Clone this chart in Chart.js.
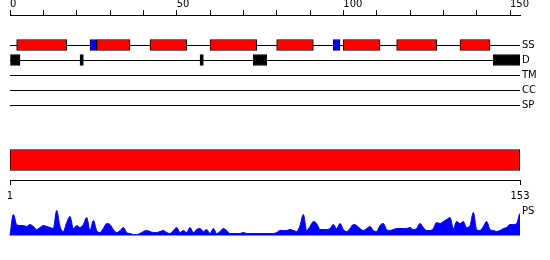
<!DOCTYPE html>
<html>
<head>
<meta charset="utf-8">
<script src="https://cdn.jsdelivr.net/npm/chart.js@4.4.1/dist/chart.umd.min.js"></script>
<style>
body{margin:0;background:#fff;width:550px;height:260px;overflow:hidden;position:relative}
.box{position:absolute;left:0;width:550px}
</style>
</head>
<body>
<div class="box" style="top:0;height:120px"><canvas id="tracks"></canvas></div>
<div class="box" style="top:140px;height:65px"><canvas id="domain"></canvas></div>
<div class="box" style="top:200px;height:36px"><canvas id="ps"></canvas></div>
<script>
// sequence length and track names
const seqLen=153
const trackNames=["SS","D","TM","CC","SP"]

// secondary structure: helices (red) and strands (blue), [start,end]
const helices=[[2,17],[26,36],[42,53],[60,74],[80,91],[100,111],[116,128],[135,144]]
const strands=[[24,26],[97,99]]

// disordered regions
const disorder=[[0,3],[21,22],[57,58],[73,77],[145,153]]

// domain bar
const domains=[[1,153]]

// bottom axis labels
const domainTicks=[1,153]

// PS profile, one value per residue 1..153
const psValues=[
21,11,10,10,9,11,9,6,8,10,
9,8,7,25,9,4,13,19,7,10,
8,11,18,5,15,5,3,7,12,11,
6,3,5,8,3,2,1,1,2,4,
5,4,3,3,4,5,3,2,5,8,
3,5,3,8,3,6,7,4,6,2,
7,2,4,7,5,2,2,2,2,3,
2,2,2,2,2,2,2,2,2,3,
5,5,5,6,5,4,10,21,5,9,
14,12,6,6,6,7,11,7,12,6,
4,7,11,10,7,5,7,9,5,4,
10,12,6,5,6,7,7,7,7,8,
6,7,12,8,5,5,7,13,12,14,
16,18,7,14,12,14,8,10,23,6,
5,9,14,6,5,4,5,7,8,11,
11,12,22]

const font={family:"DejaVu Sans",size:10}
Chart.defaults.color="#000"
Chart.defaults.font=font

const common={
animation:false,
responsive:true,
maintainAspectRatio:false,
plugins:{legend:{display:false},tooltip:{enabled:false}}
}

function barSet(list,row,color){
return {
data:list.map(r=>({x:r,y:row})),
backgroundColor:color,
borderColor:"#000",
borderWidth:1,
borderSkipped:false,
barThickness:11,
grouped:false
}
}

// fixed side axis: no extra label padding
function sideFit(w){
return s=>{s.width=w;s.paddingTop=0;s.paddingBottom=0}
}

/* TRACKS */

new Chart(document.getElementById("tracks"),{
type:"bar",
data:{datasets:[
barSet(helices,2,"#ff0000"),
barSet(strands,2,"#0000ff"),
barSet(disorder,3,"#000000")
]},
options:{
...common,
indexAxis:"y",
layout:{padding:{left:10,right:0,top:0,bottom:0}},
scales:{
x:{
type:"linear",position:"top",min:0,max:seqLen,
afterFit:s=>{s.height=15;s.paddingLeft=0;s.paddingRight=0},
ticks:{stepSize:10,includeBounds:false,autoSkip:false,maxRotation:0,align:"start",padding:0,
callback:v=>v%50===0?String(v):""},
grid:{drawOnChartArea:false,drawTicks:true,tickLength:5,color:"#000"},
border:{display:true,color:"#000"}
},
y:{
type:"linear",position:"right",reverse:true,min:0,max:7,offset:false,
afterFit:sideFit(30),
afterBuildTicks:s=>{s.ticks=trackNames.map((n,i)=>({value:i+2}))},
ticks:{padding:2,callback:v=>trackNames[v-2]},
grid:{color:"#000",drawTicks:false,offset:false},
border:{display:false}
}
}
}
})

/* DOMAIN BAR */

new Chart(document.getElementById("domain"),{
type:"bar",
data:{datasets:[{
data:domains.map(r=>({x:r,y:2})),
backgroundColor:"#ff0000",
borderColor:"#000",
borderWidth:1,
borderSkipped:false,
barThickness:21
}]},
options:{
...common,
indexAxis:"y",
layout:{padding:{left:10,right:30,top:0,bottom:0}},
scales:{
x:{
type:"linear",position:"bottom",min:domainTicks[0],max:domainTicks[1],
afterFit:s=>{s.height=25;s.paddingLeft=0;s.paddingRight=0},
afterBuildTicks:s=>{s.ticks=domainTicks.map(v=>({value:v}))},
ticks:{autoSkip:false,maxRotation:0,padding:5},
grid:{drawOnChartArea:false,drawTicks:true,tickLength:5,color:"#000"},
border:{display:true,color:"#000"}
},
y:{type:"linear",display:false,reverse:true,min:0,max:4,offset:false}
}
}
})

/* PS PROFILE */

const psData=[{x:0,y:0}]
psValues.forEach((v,i)=>psData.push({x:i+1,y:v}))
psData.push({x:seqLen+1,y:0},{x:seqLen+5,y:0})

new Chart(document.getElementById("ps"),{
type:"line",
data:{datasets:[{
data:psData,
borderColor:"#0000ff",
backgroundColor:"#0000ff",
borderWidth:1,
fill:"origin",
pointRadius:0,
cubicInterpolationMode:"monotone",
clip:false
}]},
options:{
...common,
layout:{padding:{left:10,right:0,top:0,bottom:0}},
scales:{
x:{type:"linear",display:false,min:0,max:seqLen},
y:{
type:"linear",position:"right",min:-0.5,max:35.5,
afterFit:sideFit(30),
afterBuildTicks:s=>{s.ticks=[{value:24}]},
ticks:{padding:2,callback:()=>"PS"},
grid:{display:false,drawTicks:false},
border:{display:false}
}
}
}
})
</script>
</body>
</html>
